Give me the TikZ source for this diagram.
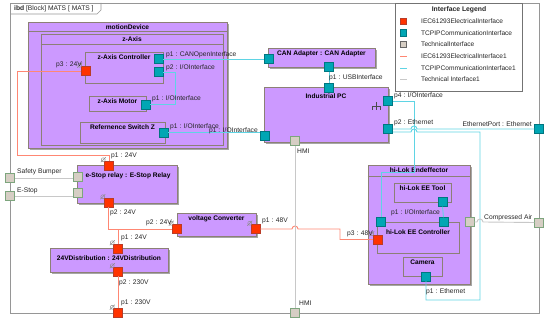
\documentclass[tikz,border=0pt]{standalone}
\usepackage{fontspec}
\setmainfont{Liberation Sans}
\usetikzlibrary{positioning,calc,shadows}

\definecolor{blkfill}{RGB}{204,153,255}
\definecolor{blkline}{RGB}{140,128,118}
\definecolor{frameline}{RGB}{150,150,150}
\definecolor{ioport}{RGB}{0,166,180}
\definecolor{ioportline}{RGB}{0,118,128}
\definecolor{elport}{RGB}{255,51,0}
\definecolor{elportline}{RGB}{185,60,40}
\definecolor{tcport}{RGB}{214,206,196}
\definecolor{tcportline}{RGB}{125,165,125}
\definecolor{ioline}{RGB}{95,212,228}
\definecolor{elline}{RGB}{255,135,115}
\definecolor{tcline}{RGB}{200,200,200}

\begin{document}
\begin{tikzpicture}[x=1pt, y=-1pt,
    blk/.style={draw=blkline, fill=blkfill, line width=0.8pt, inner sep=0pt, drop shadow={shadow xshift=2pt, shadow yshift=-2pt, fill=black!35, opacity=1}},
    part/.style={draw=blkline, fill=blkfill, line width=0.9pt, inner sep=0pt},
    ttl/.style={anchor=north, yshift=-1.5pt, inner sep=1.5pt, font=\fontsize{6.6}{8}\selectfont\bfseries},
    lbl/.style={inner sep=0pt, text=black!85, font=\fontsize{6.7}{8}\selectfont},
    prt/.style={minimum size=9pt, inner sep=0pt, line width=0.5pt},
    eport/.style={prt, draw=elportline, fill=elport},
    cport/.style={prt, draw=ioportline, fill=ioport},
    tport/.style={prt, draw=tcportline, fill=tcport},
    eline/.style={draw=elline, line width=0.9pt},
    cline/.style={draw=ioline, line width=0.9pt},
    tline/.style={draw=tcline, line width=0.9pt},
    hdr/.style={draw=blkline, line width=0.6pt},
    sock/.style={draw=black!45, line width=0.4pt}]
  \useasboundingbox (0,0) rectangle (550,323);

  % diagram frame
  \draw[frameline, line width=0.8pt] (10,3) rectangle (539,313);
  \draw[frameline, line width=0.6pt] (10,14) -- (97,14) -- (101,10) -- (101,3);
  \node[lbl, anchor=west] (tab) at (14,9) {\textbf{ibd} [Block] MATS [ MATS ]};

  % legend
  \draw[draw=black!55, line width=0.9pt, fill=white] (395,3) rectangle (522,91);
  \node[lbl, font=\fontsize{6.8}{8}\selectfont\bfseries] (lgt) at (459,10) {Interface Legend};
  \node[eport, minimum size=6.5pt] (lg1) at (403,21.5) {};
  \node[cport, minimum size=6.5pt] (lg2) at (403,33) {};
  \node[tport, minimum size=6.5pt, draw=black!60] (lg3) at (403,44.5) {};
  \node[lbl, anchor=west, font=\fontsize{6.6}{8}\selectfont] (lg1t) at (421,21.5) {IEC61293ElectricalInterface};
  \node[lbl, anchor=west, font=\fontsize{6.6}{8}\selectfont] (lg2t) at (421,33) {TCPIPCommunicationInterface};
  \node[lbl, anchor=west, font=\fontsize{6.6}{8}\selectfont] (lg3t) at (421,44.5) {TechnicalInterface};
  \node[lbl, anchor=west, font=\fontsize{6.6}{8}\selectfont] (lg4t) at (421,56.5) {IEC61293ElectricalInterface1};
  \node[lbl, anchor=west, font=\fontsize{6.6}{8}\selectfont] (lg5t) at (421,68) {TCPIPCommunicationInterface1};
  \node[lbl, anchor=west, font=\fontsize{6.6}{8}\selectfont] (lg6t) at (421,79.5) {Technical Interface1};
  \draw[eline] (lg4t.west) ++(-21,0) -- ++(7,0);
  \draw[cline] (lg5t.west) ++(-21,0) -- ++(7,0);
  \draw[tline] (lg6t.west) ++(-21,0) -- ++(7,0);

  % motion device
  \node[blk, minimum width=199pt, minimum height=126pt, label={[ttl]north:motionDevice}] (md) at (127.5,85) {};
  \draw[hdr] ($(md.north west)+(0,10)$) -- ($(md.north east)+(0,10)$);
  \node[part, line width=0.7pt, minimum width=182pt, minimum height=111pt, label={[ttl]north:z-Axis}] (za) at (132,89.5) {};
  \draw[hdr] ($(za.north west)+(0,11)$) -- ($(za.north east)+(0,11)$);
  \node[part, minimum width=78pt, minimum height=31pt, label={[ttl]north:z-Axis Controller}] (zc) at (124,67.5) {};
  \node[part, minimum width=57pt, minimum height=15pt, label={[ttl]north:z-Axis Motor}] (zm) at (117.5,103.5) {};
  \node[part, minimum width=85pt, minimum height=21pt, label={[ttl]north:Refernence Switch Z}] (rs) at (122.5,132.5) {};

  % adapters and pc
  \node[blk, minimum width=107pt, minimum height=19pt, label={[ttl]north:CAN Adapter : CAN Adapter}] (can) at (321.5,57.5) {};
  \node[blk, minimum width=124pt, minimum height=55pt, label={[ttl, yshift=-4pt]north:Industrial PC}] (pc) at (326,114.5) {};
  \draw[black!70, line width=0.5pt] (376,102) -- (376,110) (372,110) -- (372,106) -- (380,106) -- (380,110);

  % power
  \node[blk, minimum width=100pt, minimum height=38pt, label={[ttl, yshift=-5pt, xshift=1pt]north:e-Stop relay : E-Stop Relay}] (er) at (127,184) {};
  \node[blk, minimum width=79pt, minimum height=23pt, label={[ttl]north:voltage Converter}] (cv) at (216.5,224.5) {};
  \node[blk, minimum width=118pt, minimum height=24pt, label={[ttl, yshift=-5pt]north:24VDistribution : 24VDistribution}] (dist) at (109,260) {};

  % end effector
  \node[blk, minimum width=102pt, minimum height=119pt, label={[ttl]north:hi-Lok Endeffector}] (he) at (419,224.5) {};
  \draw[hdr] ($(he.north west)+(0,12)$) -- ($(he.north east)+(0,12)$);
  \node[part, minimum width=57pt, minimum height=19pt, label={[ttl]north:hi-Lok EE Tool}] (ht) at (422.5,192.5) {};
  \node[part, minimum width=82pt, minimum height=31pt, label={[ttl, yshift=-5pt]north:hi-Lok EE Controller}] (hc) at (418,237.5) {};
  \node[part, minimum width=39pt, minimum height=19pt, label={[ttl]north:Camera}] (cam) at (422.5,266.5) {};

  % ports
  \node[cport] (zc1) at (158.5,59) {};
  \node[cport] (zc2) at (158.5,72) {};
  \node[eport] (zc3) at (85.5,71) {};
  \node[cport] (zm1) at (145.5,104.5) {};
  \node[cport] (rs1) at (163.5,132.5) {};
  \node[cport] (canl) at (268.5,59) {};
  \node[cport] (canb) at (329,67) {};
  \node[cport] (pct) at (329,87.5) {};
  \node[cport] (pc4) at (388,101) {};
  \node[cport] (pc2) at (388,129) {};
  \node[cport] (pcl) at (264.5,136) {};
  \node[tport] (pchmi) at (295,141) {};
  \node[eport] (er1) at (109,165.5) {};
  \node[eport] (er2) at (108.5,202.5) {};
  \node[tport] (rg1) at (77.5,176.5) {};
  \node[tport] (rg2) at (77.5,193) {};
  \node[tport] (sbp) at (10,178) {};
  \node[tport] (esp) at (10,196) {};
  \node[eport] (cv2) at (177,229) {};
  \node[eport] (cv1) at (255.5,229) {};
  \node[eport] (dp1) at (118,248.5) {};
  \node[eport] (dp2) at (118,271.5) {};
  \node[eport] (bp) at (118,313) {};
  \node[tport] (hmib) at (295,313) {};
  \node[cport] (eth) at (539,129) {};
  \node[tport] (air) at (539,222.5) {};
  \node[cport] (htp) at (442.5,202) {};
  \node[cport] (hc1) at (381,222) {};
  \node[cport] (hc2) at (443.5,222) {};
  \node[eport] (hp3) at (377.5,239.5) {};
  \node[tport] (hgp) at (469.5,222) {};
  \node[cport] (camp) at (426,276.5) {};

  \foreach \p in {zc3,er1,er2,cv2,cv1,dp1,dp2,bp,hp3}
    \draw[sock] ($(\p.north west)+(-1,-1)$) circle (2pt) ++(-2.5pt,-2.5pt) -- ++(5pt,5pt);

  % electrical
  \draw[eline] (zc3.west) -| (17,155) -| (er1.north);
  \draw[eline] (er2.south) |- (cv2.west);
  \draw[eline] (dp1.north) -- (dp1.north |- cv2.west);
  \draw[eline] (dp2.south) -- (bp.north);
  \draw[eline] (cv1.east) -- (292,229) arc[start angle=180, end angle=0, radius=3pt] -- (340,229) |- (hp3.west);

  % communication
  \draw[cline] (zc1.east) -- (canl.west);
  \draw[cline] (zc2.east) -- ++(12,0) |- (zm1.east);
  \draw[cline] (rs1.east) -- (rs1.east -| pcl.west);
  \draw[cline] (canb.south) -- (pct.north);
  \draw[cline] (pc4.east) -| (414,172) -| (hc1.north);
  \draw[cline] (pc2.east) -- (411,129) arc[start angle=180, end angle=0, radius=3pt] -- (eth.west);
  \draw[cline] ($(pc2.east)+(0,3)$) -- (411,132) arc[start angle=180, end angle=0, radius=3pt] -- (480,132) -- (480,300) -| (camp.south);
  \draw[cline] (htp.south) -- (hc2.north);

  % technical
  \draw[tline] (sbp.east) -- (sbp.east -| rg1.west);
  \draw[tline] (esp.east) -- (esp.east -| rg2.west);
  \draw[tline] (pchmi.south) -- (hmib.north);
  \draw[tline] (hgp.east) -- (477,222) arc[start angle=180, end angle=0, radius=3pt] -- (air.west);

  % port labels
  \node[lbl, anchor=east] (l1) at (82,65) {p3 : 24V};
  \node[lbl, anchor=west] (l2) at (166,55) {p1 : CANOpenInterface};
  \node[lbl, anchor=west] (l3) at (166,68) {p2 : I/OInterface};
  \node[lbl, anchor=west] (l4) at (152,99) {p1 : I/OInterface};
  \node[lbl, anchor=west] (l5) at (170,127) {p1 : I/OInterface};
  \node[lbl, anchor=east] (l6) at (258,131) {p1 : I/OInterface};
  \node[lbl, anchor=west] (l7) at (329,78) {p1 : USBInterface};
  \node[lbl, anchor=west] (l8) at (394,96) {p4 : I/OInterface};
  \node[lbl, anchor=west] (l9) at (394,123) {p2 : Ethernet};
  \node[lbl, anchor=east] (l10) at (532,124) {EthernetPort : Ethernet};
  \node[lbl, anchor=west] (l11) at (297,151) {HMI};
  \node[lbl, anchor=west] (l12) at (299,303) {HMI};
  \node[lbl, anchor=west] (l13) at (111,156) {p1 : 24V};
  \node[lbl, anchor=west] (l14) at (110,213) {p2 : 24V};
  \node[lbl, anchor=east] (l15) at (172,223) {p2 : 24V};
  \node[lbl, anchor=west] (l16) at (262,221) {p1 : 48V};
  \node[lbl, anchor=west] (l17) at (121,238) {p1 : 24V};
  \node[lbl, anchor=west] (l18) at (119,283) {p2 : 230V};
  \node[lbl, anchor=west] (l19) at (121,303) {p1 : 230V};
  \node[lbl, anchor=east] (l20) at (373,234) {p3 : 48V};
  \node[lbl, anchor=west] (l21) at (391,213) {p1 : I/OInterface};
  \node[lbl, anchor=west] (l22) at (426,292) {p1 : Ethernet};
  \node[lbl, anchor=west] (l23) at (484,218) {Compressed Air};
  \node[lbl, anchor=west] (l24) at (17,172) {Safety Bumper};
  \node[lbl, anchor=west] (l25) at (17,191) {E-Stop};
\end{tikzpicture}
\end{document}
